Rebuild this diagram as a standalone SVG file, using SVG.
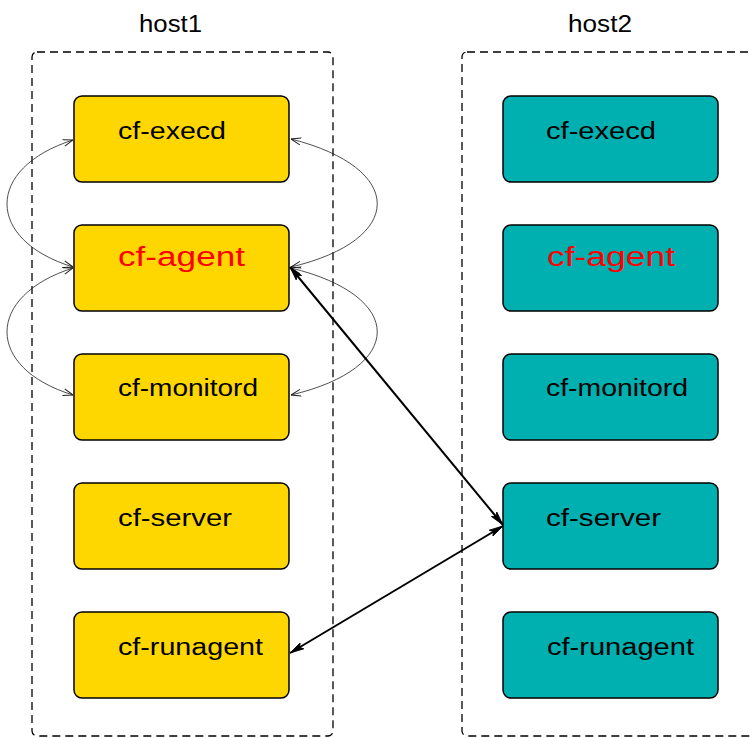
<svg xmlns="http://www.w3.org/2000/svg" width="751" height="738" viewBox="0 0 751 738">
<defs>
<style>
.host{fill:none;stroke:#000;stroke-width:1.3;stroke-dasharray:8 5}
.h1n{fill:#FFD700;stroke:#000;stroke-width:1.5}
.h2n{fill:#00AFAF;stroke:#000;stroke-width:1.5}
.lbl{font-family:"Liberation Sans",Arial,sans-serif;font-size:23px;fill:#000}
.red{font-family:"Liberation Sans",Arial,sans-serif;font-size:27px;fill:#FF0000}
.thin{fill:none;stroke:#222;stroke-width:0.8}
.thick{fill:none;stroke:#000;stroke-width:2}
</style>
<marker id="openArr" viewBox="0 0 10 10" refX="10" refY="5" markerWidth="10" markerHeight="10" markerUnits="userSpaceOnUse" orient="auto-start-reverse">
<path d="M0,1.5 L10,5 L0,8.5" fill="none" stroke="#222" stroke-width="1"/>
</marker>
<marker id="thickArr" viewBox="0 0 14 10" refX="14" refY="5" markerWidth="14" markerHeight="10" markerUnits="userSpaceOnUse" orient="auto-start-reverse">
<path d="M0,1.5 L14,5 L0,8.5 L3,5 Z" fill="#000" stroke="#000" stroke-width="0.8"/>
</marker>
</defs>
<rect width="751" height="738" fill="#fff"/>
<g id="host1">
<rect class="host" x="32" y="52" width="301" height="684" rx="5"/>
<text class="lbl" x="139" y="32" textLength="63" lengthAdjust="spacingAndGlyphs">host1</text>
</g>
<g id="host2">
<rect class="host" x="462" y="52" width="320" height="684" rx="5"/>
<text class="lbl" x="568" y="32" textLength="64" lengthAdjust="spacingAndGlyphs">host2</text>
</g>
<g id="h1-execd"><rect class="h1n" x="74" y="96" width="215" height="86" rx="8"/><text class="lbl" x="118" y="139" textLength="108" lengthAdjust="spacingAndGlyphs">cf-execd</text></g>
<g id="h1-agent"><rect class="h1n" x="74" y="225" width="215" height="86" rx="8"/><text class="red" x="118" y="266" textLength="127" lengthAdjust="spacingAndGlyphs">cf-agent</text></g>
<g id="h1-monitord"><rect class="h1n" x="74" y="354" width="215" height="86" rx="8"/><text class="lbl" x="118" y="396" textLength="140" lengthAdjust="spacingAndGlyphs">cf-monitord</text></g>
<g id="h1-server"><rect class="h1n" x="74" y="483" width="215" height="86" rx="8"/><text class="lbl" x="118" y="526" textLength="114" lengthAdjust="spacingAndGlyphs">cf-server</text></g>
<g id="h1-runagent"><rect class="h1n" x="74" y="612" width="215" height="86" rx="8"/><text class="lbl" x="118" y="655" textLength="145" lengthAdjust="spacingAndGlyphs">cf-runagent</text></g>
<g id="h2-execd"><rect class="h2n" x="503" y="96" width="215" height="86" rx="8"/><text class="lbl" x="546" y="139" textLength="110" lengthAdjust="spacingAndGlyphs">cf-execd</text></g>
<g id="h2-agent"><rect class="h2n" x="503" y="225" width="215" height="86" rx="8"/><text class="red" x="547" y="266" textLength="128" lengthAdjust="spacingAndGlyphs">cf-agent</text></g>
<g id="h2-monitord"><rect class="h2n" x="503" y="354" width="215" height="86" rx="8"/><text class="lbl" x="546" y="396" textLength="142" lengthAdjust="spacingAndGlyphs">cf-monitord</text></g>
<g id="h2-server"><rect class="h2n" x="503" y="483" width="215" height="86" rx="8"/><text class="lbl" x="546" y="526" textLength="115" lengthAdjust="spacingAndGlyphs">cf-server</text></g>
<g id="h2-runagent"><rect class="h2n" x="503" y="612" width="215" height="86" rx="8"/><text class="lbl" x="547" y="655" textLength="147" lengthAdjust="spacingAndGlyphs">cf-runagent</text></g>
<g id="connectors">
<path class="thin" d="M73,140 C-15,168 -15,240 73,267" marker-start="url(#openArr)" marker-end="url(#openArr)"/>
<path class="thin" d="M73,268 C-15,296 -15,368 73,395" marker-start="url(#openArr)" marker-end="url(#openArr)"/>
<path class="thin" d="M291,139 C406,168 406,240 291,267" marker-start="url(#openArr)" marker-end="url(#openArr)"/>
<path class="thin" d="M291,268 C406,296 406,368 291,395" marker-start="url(#openArr)" marker-end="url(#openArr)"/>
<path class="thick" d="M290,267 L503,525" marker-start="url(#thickArr)" marker-end="url(#thickArr)"/>
<path class="thick" d="M503,526 L290,653" marker-start="url(#thickArr)" marker-end="url(#thickArr)"/>
</g>
</svg>
